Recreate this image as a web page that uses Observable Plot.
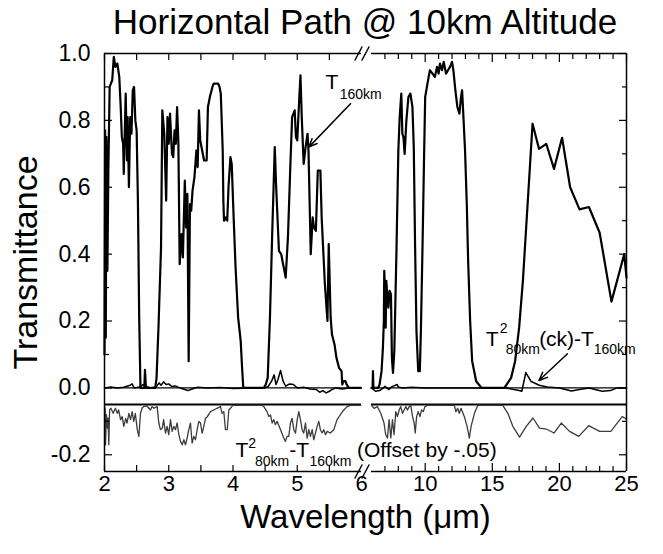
<!DOCTYPE html>
<html><head><meta charset="utf-8">
<script src="https://cdn.jsdelivr.net/npm/d3@7"></script>
<script src="https://cdn.jsdelivr.net/npm/@observablehq/plot@0.6"></script>
<style>
body{margin:0;background:#fff;}
#wrap{position:relative;width:663px;height:554px;font-family:"Liberation Sans",Arial,sans-serif;}
#wrap svg{position:absolute;left:0;top:0;}
#title{position:absolute;left:104px;width:522px;top:4px;text-align:center;font-size:35px;line-height:35px;color:#000;white-space:nowrap;}
</style></head><body>
<div id="wrap"><div id="title">Horizontal Path @ 10km Altitude</div></div>
<script>
// ---------- data (wavelength µm, value) ----------
const t160Left = [[2.0,0.10],[2.01,0.77],[2.02,0.15],[2.03,0.75],[2.045,0.35],[2.06,0.65],[2.08,0.90],[2.12,0.92],[2.145,0.99],[2.17,0.96],[2.20,0.97],[2.23,0.93],[2.25,0.85],[2.27,0.75],[2.29,0.73],[2.30,0.64],[2.33,0.88],[2.35,0.68],[2.36,0.81],[2.38,0.60],[2.40,0.81],[2.42,0.76],[2.44,0.89],[2.46,0.90],[2.48,0.80],[2.50,0.77],[2.52,0.56],[2.54,0.21],[2.56,0.0],[2.58,0.0],[2.62,0.0],[2.63,0.054],[2.645,0.0],[2.79,0.0],[2.81,0.03],[2.84,0.18],[2.88,0.42],[2.90,0.83],[2.93,0.76],[2.96,0.56],[2.98,0.81],[3.00,0.73],[3.02,0.82],[3.05,0.70],[3.07,0.69],[3.09,0.77],[3.11,0.73],[3.13,0.84],[3.15,0.73],[3.17,0.37],[3.20,0.46],[3.22,0.39],[3.25,0.62],[3.27,0.48],[3.29,0.58],[3.31,0.08],[3.33,0.55],[3.35,0.53],[3.37,0.59],[3.40,0.63],[3.43,0.71],[3.45,0.66],[3.47,0.83],[3.49,0.74],[3.52,0.71],[3.55,0.68],[3.59,0.68],[3.61,0.84],[3.64,0.87],[3.68,0.90],[3.70,0.91],[3.73,0.91],[3.77,0.91],[3.79,0.90],[3.81,0.88],[3.84,0.71],[3.85,0.56],[3.86,0.50],[3.89,0.51],[3.91,0.50],[3.93,0.60],[3.96,0.69],[3.98,0.67],[4.01,0.51],[4.04,0.36],[4.08,0.21],[4.12,0.14],[4.14,0.065],[4.16,0.0],[4.48,0.0],[4.51,0.01],[4.54,0.03],[4.575,0.21],[4.61,0.46],[4.65,0.72],[4.67,0.61],[4.715,0.41],[4.75,0.40],[4.78,0.37],[4.82,0.33],[4.855,0.45],[4.89,0.65],[4.92,0.81],[4.96,0.83],[4.98,0.75],[5.00,0.74],[5.03,0.86],[5.05,0.935],[5.07,0.81],[5.10,0.67],[5.13,0.72],[5.16,0.76],[5.175,0.71],[5.21,0.40],[5.24,0.51],[5.26,0.48],[5.29,0.47],[5.32,0.65],[5.36,0.65],[5.38,0.51],[5.43,0.31],[5.47,0.20],[5.49,0.43],[5.52,0.21],[5.54,0.16],[5.58,0.13],[5.61,0.09],[5.65,0.06],[5.69,0.05],[5.70,0.01],[5.72,0.02],[5.75,0.02],[5.77,0.01],[5.80,0.0],[5.99,0.0]];
const t160Right = [[6.0,0.0],[6.08,0.0],[6.11,0.05],[6.14,0.0],[6.5,0.0],[6.6,0.01],[6.75,0.05],[6.85,0.12],[6.92,0.20],[6.95,0.35],[7.0,0.30],[7.06,0.18],[7.1,0.32],[7.18,0.28],[7.26,0.24],[7.35,0.29],[7.45,0.28],[7.52,0.09],[7.6,0.045],[7.7,0.11],[7.86,0.41],[8.0,0.71],[8.1,0.81],[8.22,0.88],[8.3,0.76],[8.38,0.75],[8.47,0.70],[8.6,0.80],[8.75,0.87],[8.9,0.88],[9.05,0.84],[9.15,0.72],[9.25,0.42],[9.35,0.17],[9.48,0.05],[9.6,0.05],[9.68,0.17],[9.8,0.42],[9.93,0.72],[10.0,0.87],[10.17,0.91],[10.35,0.95],[10.55,0.94],[10.72,0.93],[10.88,0.96],[11.0,0.94],[11.1,0.97],[11.25,0.95],[11.38,0.975],[11.55,0.94],[11.7,0.95],[11.85,0.96],[12.0,0.975],[12.1,0.95],[12.25,0.89],[12.4,0.84],[12.55,0.82],[12.67,0.87],[12.75,0.89],[12.85,0.81],[12.97,0.71],[13.1,0.55],[13.2,0.38],[13.35,0.20],[13.5,0.08],[13.8,0.02],[14.2,0.0],[15.9,0.0],[16.4,0.03],[16.7,0.08],[17.0,0.18],[17.28,0.32],[18.0,0.79],[18.48,0.715],[19.02,0.73],[19.6,0.655],[20.2,0.748],[20.8,0.60],[21.5,0.534],[22.2,0.541],[23.0,0.464],[23.88,0.258],[24.83,0.40],[25.0,0.33]];

const diffCkLeft = [[2.0,0],[2.1,0.003],[2.2,0.0],[2.3,0.002],[2.4,0.008],[2.43,0.012],[2.46,0.0],[2.55,0.003],[2.6,0.01],[2.65,0.005],[2.7,0],[2.8,0.002],[2.85,0.015],[2.88,0.008],[2.92,0.018],[2.96,0.01],[3.0,0.012],[3.05,0.004],[3.1,0.006],[3.2,-0.002],[3.3,-0.008],[3.35,-0.004],[3.45,0.002],[3.6,0.0],[3.8,0.001],[4.0,-0.002],[4.3,0],[4.5,0.0],[4.55,0.005],[4.6,0.02],[4.64,0.039],[4.67,0.01],[4.7,0.025],[4.74,0.052],[4.78,0.02],[4.82,0.005],[4.88,0.012],[4.94,0.01],[5.0,0.0],[5.1,0.002],[5.2,-0.003],[5.3,-0.005],[5.35,-0.013],[5.4,-0.008],[5.45,-0.015],[5.5,-0.01],[5.55,-0.004],[5.6,0.0],[5.7,-0.003],[5.8,0.0],[5.99,0.0]];
const diffCkRight = [[6.0,0],[6.3,-0.01],[6.6,-0.008],[6.9,0.0],[7.0,0.005],[7.3,-0.005],[7.5,0.003],[7.9,0.01],[8.0,0.003],[8.3,0.0],[9.0,0.002],[10,0],[12,0.0],[14,0.0],[16,0.0],[16.5,-0.004],[17.0,-0.008],[17.2,-0.01],[17.5,0.046],[17.9,0.019],[18.5,0.008],[19.1,0.003],[20.0,0.0],[20.9,-0.009],[21.5,-0.005],[22.2,0.0],[23.2,-0.01],[23.8,-0.008],[24.3,0.0],[25,0.0]];

// T^2(80km) - T(160km), before the -0.05 offset
const diffLeft = [[2.0,-0.01],[2.01,-0.01],[2.016,-0.12],[2.03,-0.03],[2.045,-0.07],[2.055,-0.04],[2.067,-0.12],[2.08,-0.015],[2.10,-0.011],[2.135,-0.026],[2.17,-0.011],[2.20,-0.026],[2.22,-0.016],[2.25,-0.045],[2.275,-0.036],[2.30,-0.065],[2.33,-0.041],[2.35,-0.055],[2.38,-0.026],[2.405,-0.045],[2.43,-0.021],[2.455,-0.05],[2.48,-0.026],[2.51,-0.075],[2.535,-0.095],[2.56,-0.026],[2.585,-0.011],[2.61,-0.006],[2.66,-0.004],[2.715,-0.016],[2.74,-0.006],[2.77,-0.011],[2.82,-0.006],[2.845,-0.055],[2.87,-0.075],[2.90,-0.07],[2.92,-0.045],[2.95,-0.085],[2.975,-0.065],[3.0,-0.09],[3.027,-0.045],[3.053,-0.08],[3.08,-0.065],[3.105,-0.075],[3.13,-0.055],[3.157,-0.09],[3.183,-0.11],[3.21,-0.12],[3.235,-0.105],[3.26,-0.12],[3.286,-0.10],[3.312,-0.075],[3.338,-0.055],[3.364,-0.115],[3.39,-0.095],[3.416,-0.105],[3.442,-0.075],[3.468,-0.05],[3.494,-0.055],[3.52,-0.085],[3.546,-0.065],[3.572,-0.041],[3.60,-0.036],[3.65,-0.021],[3.70,-0.016],[3.75,-0.011],[3.805,-0.006],[3.83,-0.026],[3.857,-0.021],[3.883,-0.075],[3.91,-0.075],[3.935,-0.016],[3.96,-0.011],[3.99,-0.004],[4.01,-0.002],[4.45,-0.002],[4.48,-0.006],[4.53,-0.021],[4.557,-0.036],[4.583,-0.031],[4.61,-0.055],[4.635,-0.045],[4.66,-0.06],[4.686,-0.05],[4.74,-0.075],[4.79,-0.10],[4.816,-0.11],[4.842,-0.095],[4.868,-0.095],[4.894,-0.055],[4.92,-0.041],[4.946,-0.075],[4.972,-0.085],[5.0,-0.045],[5.024,-0.021],[5.05,-0.045],[5.076,-0.075],[5.10,-0.085],[5.128,-0.055],[5.154,-0.10],[5.18,-0.075],[5.206,-0.095],[5.232,-0.075],[5.257,-0.105],[5.283,-0.085],[5.31,-0.065],[5.335,-0.05],[5.36,-0.075],[5.387,-0.085],[5.413,-0.075],[5.44,-0.09],[5.465,-0.08],[5.516,-0.085],[5.568,-0.075],[5.62,-0.045],[5.672,-0.03],[5.724,-0.016],[5.776,-0.006],[5.83,-0.002],[5.99,-0.002]];
const diffRight = [[6.0,-0.002],[6.19,-0.011],[6.44,-0.006],[6.69,-0.026],[6.93,-0.055],[7.06,-0.09],[7.19,-0.10],[7.31,-0.045],[7.44,-0.10],[7.56,-0.045],[7.68,-0.09],[7.81,-0.021],[7.93,-0.036],[8.06,-0.016],[8.18,-0.006],[8.31,-0.026],[8.43,-0.016],[8.56,-0.006],[8.68,-0.016],[8.81,-0.006],[8.93,-0.004],[9.06,-0.036],[9.18,-0.055],[9.26,-0.085],[9.36,-0.036],[9.48,-0.021],[9.61,-0.036],[9.73,-0.016],[9.86,-0.021],[9.98,-0.006],[10.18,-0.002],[12.17,-0.002],[12.29,-0.021],[12.42,-0.011],[12.54,-0.026],[12.67,-0.011],[12.92,-0.036],[13.12,-0.065],[13.29,-0.10],[13.42,-0.065],[13.67,-0.026],[13.92,-0.002],[15.78,-0.002],[16.16,-0.026],[16.53,-0.065],[17.03,-0.097],[17.53,-0.065],[18.03,-0.04],[18.52,-0.07],[19.02,-0.073],[19.6,-0.085],[20.14,-0.055],[20.76,-0.08],[21.44,-0.095],[22.18,-0.063],[23.0,-0.08],[23.83,-0.08],[24.68,-0.036],[25.0,-0.043]];
const OFFSET = -0.05;

// ---------- axes ----------
const yDomain = [-0.25, 1.0];
const xDomainLeft = [2, 6];
const xDomainRight = [6, 25];
const yMajor = [-0.2, 0, 0.2, 0.4, 0.6, 0.8, 1.0];
const yMinor = [-0.1, 0.1, 0.3, 0.5, 0.7, 0.9];
const xLeftLabels = [2, 3, 4, 5, 6];
const xLeftTicks = [2, 2.5, 3, 3.5, 4, 4.5, 5, 5.5];
const xRightLabels = [10, 15, 20, 25];
const xRightMinor = [7, 8, 9, 11, 12, 13, 14, 16, 17, 18, 19, 21, 22, 23, 24];

// ---------- annotations ----------
const leftBig = [{t: "T", w: 5.44, v: 0.913}, {t: "T", w: 4.04, v: -0.186}, {t: "-T", w: 4.876, v: -0.186}, {t: "(Offset by -.05)", w: 5.93, v: -0.186}];
const leftSmall = [{t: "160km", w: 5.66, v: 0.876}, {t: "2", w: 4.237, v: -0.165}, {t: "80km", w: 4.342, v: -0.219}, {t: "160km", w: 5.19, v: -0.219}];
const rightBig = [{t: "T", w: 14.51, v: 0.146}, {t: "(ck)-T", w: 18.49, v: 0.146}];
const rightSmall = [{t: "2", w: 15.55, v: 0.179}, {t: "80km", w: 16.0, v: 0.116}, {t: "160km", w: 22.56, v: 0.116}];
const arrowLeft = [{w1: 5.829, v1: 0.850, w2: 5.18, v2: 0.72}];
const arrowRight = [{w1: 20.6, v1: 0.102, w2: 18.48, v2: 0.022}];
const yTitle = "Transmittance";
const xTitle = "Wavelength (\u03bcm)";

const FONT = '"Liberation Sans", Arial, sans-serif';
const W = 663, H = 554;
const common = {
  width: W, height: H, marginTop: 53, marginBottom: 83,
  y: {domain: yDomain},
  style: {background: "transparent", overflow: "visible", fontFamily: FONT, color: "#000"}
};
const xw = d => d[0], yv = d => d[1];
const yOff = d => d[1] + OFFSET;
const BIG = 21, SMALL = 14, TICKFONT = 22, TITLEFONT = 33;
const breakShape = {draw(context, l) { context.moveTo(0, 0); context.lineTo(0, -l); }};
const breakMarks = (anchor) => [-3, 4].map(dx =>
  Plot.vector([0], {frameAnchor: anchor, dx, rotate: 28, length: 15, anchor: "middle", shape: breakShape, stroke: "#000", strokeWidth: 1.3}));

const left = Plot.plot({
  ...common,
  marginLeft: 104, marginRight: W - 361,
  x: {domain: xDomainLeft},
  marks: [
    Plot.ruleY([0], {stroke: "#000", strokeWidth: 1.3}),
    Plot.ruleY([OFFSET], {stroke: "#000", strokeWidth: 2}),
    Plot.line(diffLeft, {x: xw, y: yOff, stroke: "#3c3c3c", strokeWidth: 1.3}),
    Plot.line(diffCkLeft, {x: xw, y: yv, stroke: "#000", strokeWidth: 1.5}),
    Plot.line(t160Left, {x: xw, y: yv, stroke: "#000", strokeWidth: 2.2, strokeLinejoin: "round"}),
    Plot.ruleY(yDomain, {stroke: "#000", strokeWidth: 1.5}),
    Plot.ruleX([xDomainLeft[0]], {stroke: "#000", strokeWidth: 1.5}),
    Plot.axisY({ticks: yMajor, tickSize: -8, fill: "none", label: null, strokeWidth: 1.2}),
    Plot.axisY({ticks: yMinor, tickSize: -5, fill: "none", label: null, strokeWidth: 1.2}),
    Plot.axisY({ticks: yMajor, tickSize: 0, tickPadding: 14, tickFormat: d => d.toFixed(1), fontSize: 23, label: null}),
    Plot.axisX({ticks: xLeftTicks, tickSize: -6, fill: "none", label: null, strokeWidth: 1.2}),
    Plot.axisX({anchor: "top", ticks: xLeftTicks, tickSize: -6, fill: "none", label: null, strokeWidth: 1.2}),
    Plot.axisX({ticks: xLeftLabels, tickSize: 0, tickPadding: 4, tickFormat: d => String(d), fontSize: TICKFONT, label: null}),
    ...breakMarks("top-right"),
    ...breakMarks("bottom-right"),
    Plot.text(leftBig, {x: "w", y: "v", text: "t", textAnchor: "start", fontSize: BIG}),
    Plot.text(leftSmall, {x: "w", y: "v", text: "t", textAnchor: "start", fontSize: SMALL}),
    Plot.arrow(arrowLeft, {x1: "w1", y1: "v1", x2: "w2", y2: "v2", stroke: "#000", strokeWidth: 1.5, headLength: 9, headAngle: 45}),
    Plot.text([yTitle], {x: () => xDomainLeft[0], y: () => (yDomain[0] + yDomain[1]) / 2, rotate: -90, dx: -78, textAnchor: "middle", fontSize: 34}),
    Plot.text([xTitle], {frameAnchor: "bottom-left", dx: 261, dy: 56, textAnchor: "middle", fontSize: TITLEFONT})
  ]
});

const right = Plot.plot({
  ...common,
  marginLeft: 371, marginRight: W - 626,
  x: {domain: xDomainRight},
  marks: [
    Plot.ruleY([0], {stroke: "#000", strokeWidth: 1.3}),
    Plot.ruleY([OFFSET], {stroke: "#000", strokeWidth: 2}),
    Plot.line(diffRight, {x: xw, y: yOff, stroke: "#3c3c3c", strokeWidth: 1.3}),
    Plot.line(diffCkRight, {x: xw, y: yv, stroke: "#000", strokeWidth: 1.5}),
    Plot.line(t160Right, {x: xw, y: yv, stroke: "#000", strokeWidth: 2.2, strokeLinejoin: "round"}),
    Plot.ruleY(yDomain, {stroke: "#000", strokeWidth: 1.5}),
    Plot.ruleX([xDomainRight[1]], {stroke: "#000", strokeWidth: 1.5}),
    Plot.axisY({anchor: "right", ticks: yMajor, tickSize: -8, fill: "none", label: null, strokeWidth: 1.2}),
    Plot.axisY({anchor: "right", ticks: yMinor, tickSize: -5, fill: "none", label: null, strokeWidth: 1.2}),
    Plot.axisX({ticks: xRightMinor, tickSize: -5, fill: "none", label: null, strokeWidth: 1.2}),
    Plot.axisX({ticks: xRightLabels, tickSize: -8, fill: "none", label: null, strokeWidth: 1.2}),
    Plot.axisX({anchor: "top", ticks: xRightMinor, tickSize: -5, fill: "none", label: null, strokeWidth: 1.2}),
    Plot.axisX({anchor: "top", ticks: xRightLabels, tickSize: -8, fill: "none", label: null, strokeWidth: 1.2}),
    Plot.axisX({ticks: xRightLabels, tickSize: 0, tickPadding: 4, tickFormat: d => String(d), fontSize: TICKFONT, label: null}),
    Plot.text(rightBig, {x: "w", y: "v", text: "t", textAnchor: "start", fontSize: BIG}),
    Plot.text(rightSmall, {x: "w", y: "v", text: "t", textAnchor: "start", fontSize: SMALL}),
    Plot.arrow(arrowRight, {x1: "w1", y1: "v1", x2: "w2", y2: "v2", stroke: "#000", strokeWidth: 1.5, headLength: 9, headAngle: 45})
  ]
});

const wrap = document.getElementById("wrap");
wrap.appendChild(left);
wrap.appendChild(right);
</script>
</body></html>
